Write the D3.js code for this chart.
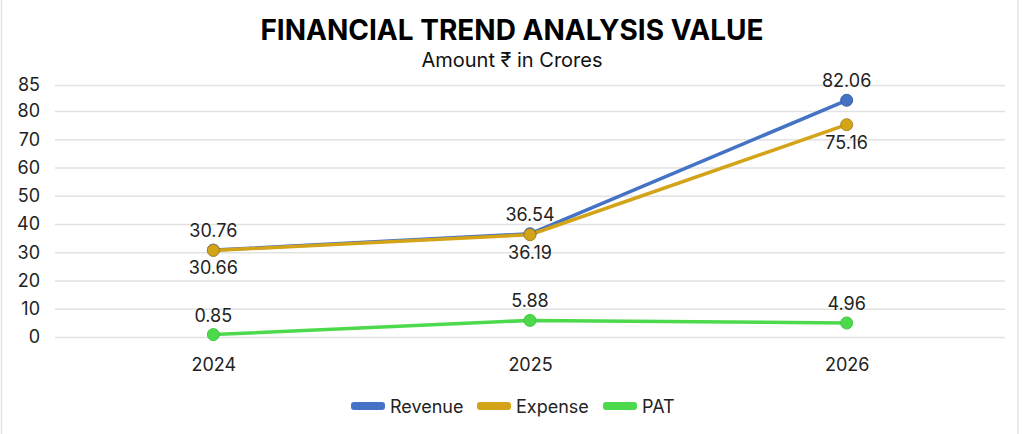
<!DOCTYPE html>
<html>
<head>
<meta charset="utf-8">
<script src="https://cdn.jsdelivr.net/npm/d3@7"></script>
<style>
    body { margin: 0; background: #fff; }
    text { font-family: Inter, "Noto Sans", "DejaVu Sans", sans-serif; }
</style>
</head>
<body>
<div id="chart"></div>
<script>
const years = ["2024", "2025", "2026"]
const revenue = [30.76, 36.54, 82.06]
const expense = [30.66, 36.19, 75.16]
const pat = [0.85, 5.88, 4.96]
const yTicks = [0, 10, 20, 30, 40, 50, 60, 70, 80, 85]
const seriesNames = ["Revenue", "Expense", "PAT"]

const width = 1024, height = 434
const margin = {top: 85, right: 19, bottom: 97, left: 55}

const series = [
    {name: seriesNames[0], values: revenue, color: "#4472c4", edge: "#3a62a8", labelSide: -1},
    {name: seriesNames[1], values: expense, color: "#d4a418", edge: "#a8862a", labelSide: 1},
    {name: seriesNames[2], values: pat, color: "#4cd94c", edge: "#44c444", labelSide: -1}
]

const svg = d3.select("#chart").append("svg")
    .attr("width", width)
    .attr("height", height)

// faint frame on the sides
svg.append("line").attr("x1", 1.5).attr("x2", 1.5).attr("y1", 0).attr("y2", height)
    .attr("stroke", "#e4e4e4").attr("stroke-width", 1.5)
svg.append("line").attr("x1", 1018).attr("x2", 1018).attr("y1", 0).attr("y2", height)
    .attr("stroke", "#e4e4e4").attr("stroke-width", 1.5)

svg.append("text")
    .attr("x", 512).attr("y", 40)
    .attr("text-anchor", "middle")
    .attr("font-size", 28).attr("font-weight", 700)
    .attr("fill", "#000")
    .text("FINANCIAL TREND ANALYSIS VALUE")

svg.append("text")
    .attr("x", 512).attr("y", 67)
    .attr("text-anchor", "middle")
    .attr("font-size", 20)
    .attr("fill", "#111")
    .text("Amount ₹ in Crores")

const plotW = width - margin.left - margin.right
const plotBottom = height - margin.bottom

const x = d3.scalePoint()
    .domain(years)
    .range([margin.left, margin.left + plotW])
    .padding(0.5)

// the top band 80..85 is drawn wider than the rest
const y = d3.scaleLinear()
    .domain([0, 80, 85])
    .range([plotBottom, 111, margin.top])

svg.append("g")
    .attr("transform", "translate(" + margin.left + ",0)")
    .call(d3.axisLeft(y).tickValues(yTicks).tickSize(-plotW).tickPadding(15))
    .call(g => g.select(".domain").remove())
    .call(g => g.selectAll(".tick line").attr("stroke", "#e2e2e2").attr("stroke-width", 1.5))
    .call(g => g.selectAll(".tick text").attr("font-size", 18).attr("fill", "#222")
        .style("font-family", "Inter, 'Noto Sans', sans-serif"))

svg.append("g")
    .attr("transform", "translate(0," + plotBottom + ")")
    .call(d3.axisBottom(x).tickSize(0).tickPadding(21))
    .call(g => g.select(".domain").remove())
    .call(g => g.selectAll(".tick text").attr("font-size", 18).attr("fill", "#222")
        .style("font-family", "Inter, 'Noto Sans', sans-serif"))

const line = d3.line()
    .x((d, i) => x(years[i]))
    .y(d => y(d))

series.forEach(s => {
    svg.append("path")
        .datum(s.values)
        .attr("fill", "none")
        .attr("stroke", s.color)
        .attr("stroke-width", 3.5)
        .attr("stroke-linejoin", "round")
        .attr("d", line)
})

series.forEach(s => {
    const g = svg.append("g")
    g.selectAll("circle")
        .data(s.values)
        .join("circle")
        .attr("cx", (d, i) => x(years[i]))
        .attr("cy", d => y(d))
        .attr("r", 6)
        .attr("fill", s.color)
        .attr("stroke", s.edge)
        .attr("stroke-width", 1)
    g.selectAll("text")
        .data(s.values)
        .join("text")
        .attr("x", (d, i) => x(years[i]))
        .attr("y", d => y(d) + (s.labelSide < 0 ? -13 : 24))
        .attr("text-anchor", "middle")
        .attr("font-size", 18)
        .attr("fill", "#222")
        .text(d => d.toFixed(2))
})

// legend
const legend = svg.append("g").attr("transform", "translate(0,406)")
const itemX = [351, 477, 603]
series.forEach((s, i) => {
    legend.append("rect")
        .attr("x", itemX[i]).attr("y", -4)
        .attr("width", 34).attr("height", 8).attr("rx", 3)
        .attr("fill", s.color)
    legend.append("text")
        .attr("x", itemX[i] + 39).attr("y", 6.5)
        .attr("font-size", 18).attr("fill", "#222")
        .text(s.name)
})
</script>
</body>
</html>
